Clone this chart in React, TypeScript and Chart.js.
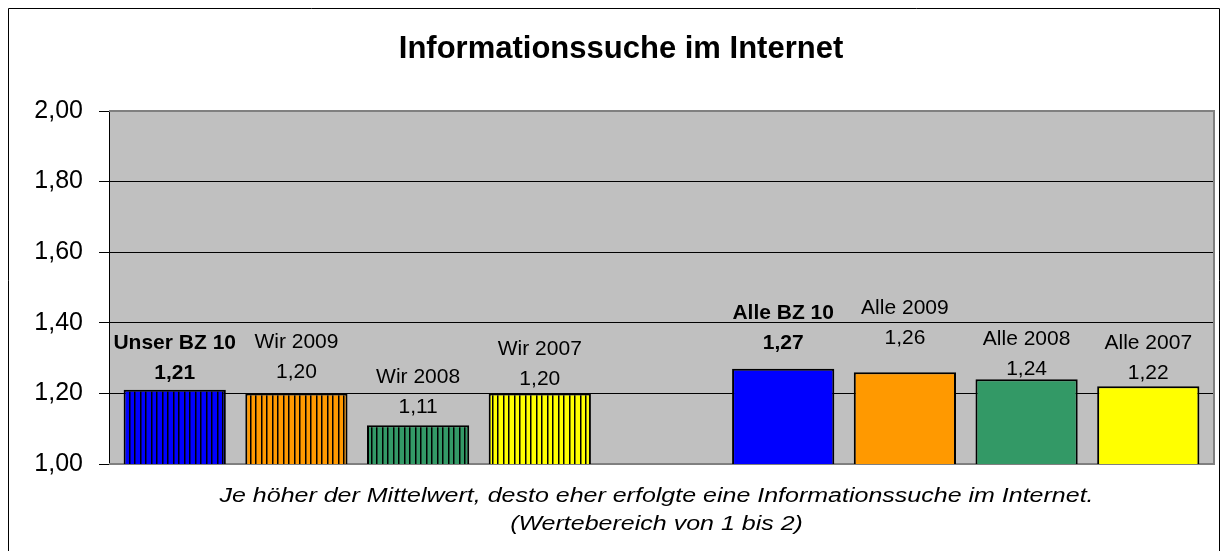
import React, { useEffect, useRef } from 'react';
import { Chart, registerables } from 'chart.js';

Chart.register(...registerables);

const categories = ['Unser BZ 10', 'Wir 2009', 'Wir 2008', 'Wir 2007', '', 'Alle BZ 10', 'Alle 2009', 'Alle 2008', 'Alle 2007'];
const values: (number | null)[] = [1.21, 1.2, 1.11, 1.2, null, 1.27, 1.26, 1.24, 1.22];
const barColors = ['#0000FF', '#FF9900', '#339966', '#FFFF00', '', '#0000FF', '#FF9900', '#339966', '#FFFF00'];
const striped = [true, true, true, true, false, false, false, false, false];
const boldLabel = [true, false, false, false, false, true, false, false, false];
const labelLift = [17, 21, 18, 14, 0, 25, 34, 10, 13];
const yTicks = [1.0, 1.2, 1.4, 1.6, 1.8, 2.0];
const titleText = 'Informationssuche im Internet';
const captionLines = [
  'Je höher der Mittelwert, desto eher erfolgte eine Informationssuche im Internet.',
  '(Wertebereich von 1 bis 2)',
];

const FONT = '"Liberation Sans", Arial, sans-serif';
const fmt = (v: number) => v.toFixed(2).replace('.', ',');

function stripePattern(color: string): CanvasPattern | string {
  const c = document.createElement('canvas');
  c.width = 11;
  c.height = 4;
  const g = c.getContext('2d');
  if (!g) return color;
  g.fillStyle = color;
  g.fillRect(0, 0, 11, 4);
  g.fillStyle = '#000';
  g.fillRect(0, 0, 1, 4);
  g.fillRect(5, 0, 1, 4);
  g.fillStyle = 'rgba(0,0,0,0.5)';
  g.fillRect(1, 0, 1, 4);
  g.fillRect(6, 0, 1, 4);
  return g.createPattern(c, 'repeat') || color;
}

export default function App() {
  const ref = useRef<HTMLCanvasElement | null>(null);

  useEffect(() => {
    const canvas = ref.current;
    if (!canvas) return;

    const idx = values.map((v, i) => (v == null ? -1 : i)).filter((i) => i >= 0);
    const points = idx.map((i) => ({ x: i, y: values[i] as number }));
    const fills = idx.map((i) => (striped[i] ? stripePattern(barColors[i]) : barColors[i]));

    const decor = {
      id: 'decor',
      beforeDraw(chart: any) {
        const { ctx, chartArea: a, width } = chart;
        ctx.save();
        ctx.fillStyle = '#C0C0C0';
        ctx.fillRect(a.left, a.top, a.right - a.left, a.bottom - a.top);
        // outer frame
        ctx.strokeStyle = '#000';
        ctx.lineWidth = 1;
        ctx.beginPath();
        ctx.moveTo(0.5, 600);
        ctx.lineTo(0.5, 0.5);
        ctx.lineTo(width - 0.5, 0.5);
        ctx.lineTo(width - 0.5, 600);
        ctx.stroke();
        // title
        ctx.fillStyle = '#000';
        ctx.font = `bold 31px ${FONT}`;
        ctx.textAlign = 'center';
        ctx.textBaseline = 'alphabetic';
        ctx.fillText(titleText, 613, 50);
        // caption
        ctx.font = `italic 20px ${FONT}`;
        const cx = (a.left + a.right) / 2 - 5;
        const ys = [494, 522];
        captionLines.forEach((t, k) => {
          ctx.save();
          ctx.translate(cx, ys[k]);
          ctx.scale(1.25, 1);
          ctx.fillText(t, 0, 0);
          ctx.restore();
        });
        ctx.restore();
      },
      beforeDatasetsDraw(chart: any) {
        const { ctx, chartArea: a } = chart;
        ctx.save();
        ctx.strokeStyle = '#808080';
        ctx.lineWidth = 2;
        ctx.beginPath();
        ctx.moveTo(a.left, a.top);
        ctx.lineTo(a.right, a.top);
        ctx.lineTo(a.right, a.bottom);
        ctx.lineTo(a.left, a.bottom);
        ctx.stroke();
        ctx.restore();
      },
      afterDatasetsDraw(chart: any) {
        const { ctx } = chart;
        const meta = chart.getDatasetMeta(0);
        ctx.save();
        ctx.fillStyle = '#000';
        ctx.textAlign = 'center';
        ctx.textBaseline = 'middle';
        meta.data.forEach((el: any, j: number) => {
          const i = idx[j];
          const w = boldLabel[i] ? 'bold ' : '';
          ctx.font = `${w}21px ${FONT}`;
          const vy = el.y - labelLift[i];
          ctx.fillText(fmt(values[i] as number), el.x, vy);
          ctx.fillText(categories[i], el.x, vy - 30);
        });
        ctx.restore();
      },
    };

    const chart = new Chart(canvas, {
      type: 'bar',
      data: {
        datasets: [
          {
            data: points as any,
            backgroundColor: fills as any,
            borderColor: '#000',
            borderWidth: 2,
            borderSkipped: false,
            barPercentage: 0.84,
            categoryPercentage: 1,
          },
        ],
      },
      options: {
        responsive: false,
        animation: false,
        events: [],
        layout: { padding: { top: 103, bottom: 87, right: 6, left: 0 } },
        plugins: { legend: { display: false }, title: { display: false }, tooltip: { enabled: false } },
        scales: {
          x: {
            type: 'linear',
            display: false,
            offset: false,
            min: -0.54,
            max: 8.54,
            ticks: { stepSize: 1, includeBounds: false },
            grid: { offset: false },
          },
          y: {
            type: 'linear',
            min: 1,
            max: 2,
            afterBuildTicks: (s: any) => {
              s.ticks = yTicks.map((v) => ({ value: v }));
            },
            afterFit: (s: any) => {
              s.width = 101;
            },
            ticks: {
              color: '#000',
              padding: 16,
              font: { family: FONT, size: 25 },
              callback: (v: any) => fmt(Number(v)),
            },
            grid: {
              color: (c: any) =>
                c.tick && (Math.abs(c.tick.value - 1) < 1e-6 || Math.abs(c.tick.value - 2) < 1e-6)
                  ? 'rgba(0,0,0,0)'
                  : '#000',
              tickColor: '#000',
              tickLength: 10,
              lineWidth: 1,
            },
            border: { color: '#000', width: 1 },
          },
        },
      },
      plugins: [decor],
    });

    return () => chart.destroy();
  }, []);

  return <canvas ref={ref} width={1212} height={543} style={{ display: 'block' }} />;
}
